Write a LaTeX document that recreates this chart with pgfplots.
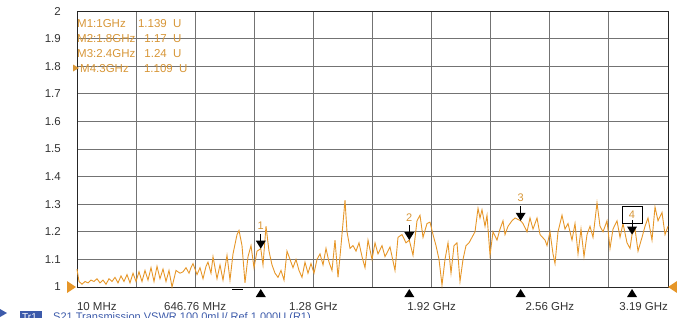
\documentclass[border=0pt]{standalone}
\usepackage{pgfplots}
\pgfplotsset{compat=1.18}
\usepackage{fontspec}
\setmainfont{Liberation Sans}
\definecolor{trace}{RGB}{230,150,40}
\definecolor{mtxt}{RGB}{215,150,55}
\definecolor{bluet}{RGB}{60,90,170}
\pgfdeclareplotmark{mkdown}{%
  \pgfpathmoveto{\pgfqpoint{0pt}{0pt}}%
  \pgfpathlineto{\pgfqpoint{-5pt}{8pt}}%
  \pgfpathlineto{\pgfqpoint{5pt}{8pt}}%
  \pgfpathclose\pgfusepathqfill
  \pgfpathmoveto{\pgfqpoint{0pt}{7pt}}%
  \pgfpathlineto{\pgfqpoint{0pt}{15pt}}%
  \pgfusepathqstroke}
\pgfdeclareplotmark{mkup}{%
  \pgfpathmoveto{\pgfqpoint{0pt}{-2pt}}%
  \pgfpathlineto{\pgfqpoint{-5pt}{-10pt}}%
  \pgfpathlineto{\pgfqpoint{5pt}{-10pt}}%
  \pgfpathclose\pgfusepathqfill}
\pgfdeclareplotmark{refl}{%
  \pgfpathmoveto{\pgfqpoint{-1pt}{0pt}}%
  \pgfpathlineto{\pgfqpoint{-10pt}{6pt}}%
  \pgfpathlineto{\pgfqpoint{-10pt}{-6pt}}%
  \pgfpathclose\pgfusepathqfill}
\pgfdeclareplotmark{refr}{%
  \pgfpathmoveto{\pgfqpoint{0pt}{0pt}}%
  \pgfpathlineto{\pgfqpoint{9pt}{6pt}}%
  \pgfpathlineto{\pgfqpoint{9pt}{-6pt}}%
  \pgfpathclose\pgfusepathqfill}
\begin{document}
\begin{tikzpicture}[x=1pt,y=1pt]
\useasboundingbox (0,0) rectangle (677,317);
\begin{axis}[
  at={(77pt,30pt)}, anchor=south west,
  scale only axis, width=591pt, height=276pt,
  xmin=10, xmax=3193.8, ymin=1, ymax=2,
  clip=false,
  xtick={10,328.38,646.76,965.14,1283.52,1601.9,1920.28,2238.66,2557.04,2875.42,3193.8},
  xticklabels={\makebox[0pt][l]{10 MHz},,646.76 MHz,,1.28 GHz,,1.92 GHz,,2.56 GHz,,\makebox[0pt][r]{3.19 GHz}},
  ytick={1,1.1,1.2,1.3,1.4,1.5,1.6,1.7,1.8,1.9,2},
  yticklabels={1,1.1,1.2,1.3,1.4,1.5,1.6,1.7,1.8,1.9,2},
  xmajorgrids, ymajorgrids,
  major grid style={black!55, line width=0.9pt},
  axis line style={black!85, line width=0.9pt},
  major tick length=0pt,
  ticklabel style={font=\fontsize{11.5}{13}\selectfont, text=black!80},
  yticklabel style={inner sep=0pt, xshift=-16pt},
  xticklabel style={inner sep=0pt, yshift=-15pt},
]
\addplot[color=trace, line width=0.9pt, no marks] table {
x y
10.0 1.065
20.8 1.02
36.9 1.01
53.1 1.02
69.3 1.015
85.4 1.025
101.6 1.02
117.7 1.03
133.9 1.015
150.1 1.025
166.2 1.01
182.4 1.03
198.6 1.02
214.7 1.035
230.9 1.015
247.0 1.04
263.2 1.02
279.4 1.045
295.5 1.015
311.7 1.05
327.8 1.02
344.0 1.055
360.2 1.02
376.3 1.06
392.5 1.025
408.7 1.07
424.8 1.02
441.0 1.075
457.1 1.03
473.3 1.065
489.5 1.02
505.6 1.06
521.8 1.0
543.3 1.06
564.9 1.05
581.0 1.055
597.2 1.07
613.4 1.05
624.1 1.07
634.9 1.085
656.5 1.045
672.6 1.07
688.8 1.03
705.0 1.075
715.7 1.09
731.9 1.05
742.7 1.11
764.2 1.03
780.4 1.08
796.5 1.025
818.1 1.115
834.2 1.025
850.4 1.12
872.0 1.19
882.7 1.205
898.9 1.15
915.0 1.015
931.2 1.11
947.4 1.15
963.5 1.07
979.7 1.13
1000.0 1.139
1012.0 1.08
1028.2 1.22
1044.3 1.13
1060.5 1.08
1076.7 1.05
1092.8 1.035
1109.0 1.06
1125.2 1.025
1141.3 1.13
1157.5 1.1
1173.6 1.07
1189.8 1.1
1206.0 1.06
1222.1 1.035
1238.3 1.09
1254.4 1.05
1270.6 1.085
1286.8 1.05
1302.9 1.1
1319.1 1.12
1335.3 1.08
1351.4 1.14
1367.6 1.09
1383.7 1.06
1399.9 1.17
1416.1 1.035
1432.2 1.15
1453.8 1.315
1464.5 1.2
1480.7 1.14
1496.9 1.15
1513.0 1.13
1529.2 1.16
1545.4 1.11
1561.5 1.07
1577.7 1.17
1599.2 1.1
1615.4 1.16
1631.5 1.12
1653.1 1.15
1669.3 1.11
1696.2 1.145
1723.1 1.06
1739.3 1.18
1760.8 1.19
1782.4 1.16
1800.0 1.17
1820.1 1.115
1841.6 1.24
1857.8 1.26
1874.0 1.18
1895.5 1.23
1911.7 1.235
1927.8 1.19
1944.0 1.15
1960.2 1.1
1976.3 1.007
1992.5 1.1
2008.7 1.16
2024.8 1.05
2041.0 1.15
2057.1 1.16
2073.3 1.02
2089.5 1.1
2105.6 1.15
2121.8 1.16
2137.9 1.18
2154.1 1.2
2170.3 1.285
2181.0 1.25
2191.8 1.28
2208.0 1.22
2218.8 1.26
2234.9 1.115
2251.1 1.2
2272.6 1.17
2288.8 1.21
2304.9 1.24
2315.7 1.19
2331.9 1.22
2353.4 1.24
2369.6 1.25
2400.0 1.24
2412.7 1.23
2434.2 1.2
2450.4 1.25
2466.6 1.21
2488.1 1.25
2504.3 1.19
2531.2 1.17
2542.0 1.15
2558.1 1.2
2574.3 1.12
2585.1 1.085
2601.2 1.2
2622.8 1.26
2638.9 1.21
2655.1 1.23
2676.7 1.17
2692.8 1.23
2709.0 1.12
2725.1 1.21
2741.3 1.11
2757.5 1.19
2773.6 1.22
2789.8 1.18
2811.3 1.305
2827.5 1.22
2843.7 1.2
2865.2 1.24
2881.4 1.14
2897.5 1.21
2919.1 1.24
2935.3 1.18
2951.4 1.23
2973.0 1.16
2989.1 1.14
3000.0 1.19
3016.1 1.21
3032.2 1.13
3053.8 1.18
3069.9 1.22
3086.1 1.25
3107.6 1.17
3123.8 1.29
3139.9 1.24
3161.5 1.27
3177.7 1.19
3193.8 1.22
};
% marker arrows
\addplot[only marks, mark=mkdown, black, line width=0.9pt] coordinates {(1000,1.139) (1800,1.17) (2400,1.24) (3000,1.19)};
% marker ticks under the axis
\addplot[only marks, mark=mkup, black] coordinates {(1000,1) (1800,1) (2400,1) (3000,1)};
% reference level triangles
\addplot[only marks, mark=refl, trace] coordinates {(10,1)};
\addplot[only marks, mark=refr, trace] coordinates {(3193.8,1)};
\node[text=mtxt, font=\fontsize{11}{12}\selectfont, inner sep=0pt] at (axis cs:1000,1.139) [yshift=23pt] {1};
\node[text=mtxt, font=\fontsize{11}{12}\selectfont, inner sep=0pt] at (axis cs:1800,1.17) [yshift=22pt] {2};
\node[text=mtxt, font=\fontsize{11}{12}\selectfont, inner sep=0pt] at (axis cs:2400,1.24) [yshift=23pt] {3};
\node[draw=black, fill=white, line width=0.9pt, minimum width=20pt, minimum height=17pt, inner sep=0pt, text=mtxt, font=\fontsize{11}{12}\selectfont] at (axis cs:3000,1.19) [yshift=20pt] {4};
\end{axis}
% marker readout
\begin{scope}[font=\fontsize{11.5}{13}\selectfont, every node/.style={text=mtxt, inner sep=0pt}]
\node[anchor=base west] at (77,290) {M1:1GHz};
\node[anchor=base east] at (167,290) {1.139};
\node[anchor=base west] at (173,290) {U};
\node[anchor=base west] at (77,275) {M2:1.8GHz};
\node[anchor=base east] at (167,275) {1.17};
\node[anchor=base west] at (173,275) {U};
\node[anchor=base west] at (77,260) {M3:2.4GHz};
\node[anchor=base east] at (167,260) {1.24};
\node[anchor=base west] at (173,260) {U};
\fill[mtxt] (79,249) -- (73,252.5) -- (73,245.5) -- cycle;
\node[anchor=base west] at (80,245) {M4:3GHz};
\node[anchor=base east] at (173,245) {1.109};
\node[anchor=base west] at (179,245) {U};
\end{scope}
\draw[black, line width=0.9pt] (232,28) -- (243,28);
% status line (cut off at the bottom, as in the screenshot)
\fill[bluet] (0,0) -- (7,4) -- (0,8) -- cycle;
\fill[bluet] (20,-4) rectangle (42,6);
\node[anchor=base west, inner sep=0pt, text=white, font=\fontsize{10}{12}\selectfont] at (22,-3) {Tr1};
\node[anchor=base west, inner sep=0pt, text=bluet, font=\fontsize{11}{12}\selectfont] at (53,-3) {S21 Transmission VSWR 100.0mU/ Ref 1.000U (R1)};
\end{tikzpicture}
\end{document}
